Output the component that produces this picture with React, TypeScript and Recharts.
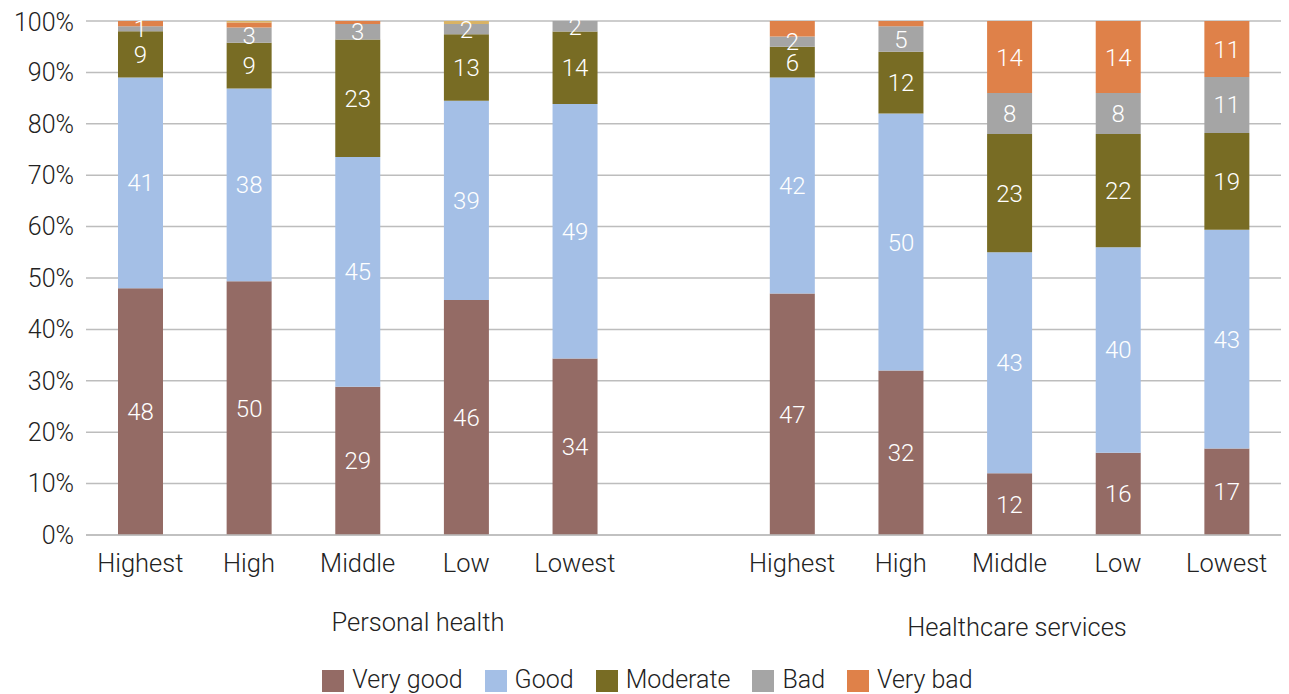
import { BarChart, Bar, XAxis, YAxis, CartesianGrid, Legend, LabelList } from "recharts";

// two groups of income levels, with an empty slot between them
const levels = ["Highest", "High", "Middle", "Low", "Lowest", "", "Highest", "High", "Middle", "Low", "Lowest"];

const veryGood = [48, 50, 29, 46, 34, null, 47, 32, 12, 16, 17];
const good = [41, 38, 45, 39, 49, null, 42, 50, 43, 40, 43];
const moderate = [9, 9, 23, 13, 14, null, 6, 12, 23, 22, 19];
const bad = [1, 3, 3, 2, 2, null, 2, 5, 8, 8, 11];
const veryBad = [1, 1, 0.6, 0, 0, null, 3, 1, 14, 14, 11];
const noAnswer = [0, 0.3, 0, 0.6, 0, null, 0, 0, 0, 0, 0];

const percentTicks = [0, 0.1, 0.2, 0.3, 0.4, 0.5, 0.6, 0.7, 0.8, 0.9, 1];
const legendOrder = ["Very good", "Good", "Moderate", "Bad", "Very bad"];

const rows = levels.map((level, i) => ({
  level,
  veryGood: veryGood[i],
  good: good[i],
  moderate: moderate[i],
  bad: bad[i],
  veryBad: veryBad[i],
  noAnswer: noAnswer[i],
}));

const FONT = "Roboto, 'Liberation Sans', sans-serif";
const labelStyle = { fill: "#fff", fontSize: 24, fontWeight: 300, fontFamily: FONT };

// small slivers stay unlabelled
const showIf = (min: number) => (v: any) => (v != null && v >= min ? v : "");

export default function App() {
  return (
    <div style={{ position: "relative", width: 1281, height: 686, fontFamily: FONT, fontWeight: 300, color: "#222" }}>
      <BarChart
        width={1281}
        height={686}
        data={rows}
        stackOffset="expand"
        barSize={45}
        margin={{ top: 13, right: 8, left: 0, bottom: 90 }}
      >
        <CartesianGrid vertical={false} stroke="#bdbdbd" strokeWidth={1.5} />
        <XAxis
          dataKey="level"
          axisLine={{ stroke: "#bdbdbd", strokeWidth: 1.5 }}
          tickLine={false}
          tickMargin={13}
          height={40}
          interval={0}
          tick={{ fontSize: 25.5, fill: "#222", fontWeight: 300, fontFamily: FONT }}
        />
        <YAxis
          width={78}
          domain={[0, 1]}
          ticks={percentTicks}
          tickFormatter={(v: number) => `${Math.round(v * 100)}%`}
          axisLine={false}
          tickLine={false}
          tickMargin={6}
          tick={{ fontSize: 25, fill: "#222", fontWeight: 300, fontFamily: FONT }}
        />
        <Legend
          iconType="square"
          iconSize={22}
          itemSorter={(item: any) => legendOrder.indexOf(item.value)}
          wrapperStyle={{ bottom: 0, paddingLeft: 14, fontSize: 25, fontWeight: 300 }}
          formatter={(value: string) => (
            <span style={{ color: "#222", marginLeft: 4, marginRight: 12 }}>{value}</span>
          )}
        />
        <Bar dataKey="veryGood" name="Very good" stackId="a" fill="#946b65" isAnimationActive={false}>
          <LabelList dataKey="veryGood" position="center" style={labelStyle} />
        </Bar>
        <Bar dataKey="good" name="Good" stackId="a" fill="#a4bfe6" isAnimationActive={false}>
          <LabelList dataKey="good" position="center" style={labelStyle} />
        </Bar>
        <Bar dataKey="moderate" name="Moderate" stackId="a" fill="#786c24" isAnimationActive={false}>
          <LabelList dataKey="moderate" position="center" style={labelStyle} />
        </Bar>
        <Bar dataKey="bad" name="Bad" stackId="a" fill="#a5a5a5" isAnimationActive={false}>
          <LabelList dataKey="bad" position="center" style={labelStyle} />
        </Bar>
        <Bar dataKey="veryBad" name="Very bad" stackId="a" fill="#df8149" isAnimationActive={false}>
          <LabelList dataKey="veryBad" position="center" style={labelStyle} formatter={showIf(5)} />
        </Bar>
        <Bar dataKey="noAnswer" stackId="a" fill="#d9b365" legendType="none" isAnimationActive={false} />
      </BarChart>
      <div style={{ position: "absolute", left: 418 - 8, top: 599, transform: "translateX(-50%)", fontSize: 25.5, whiteSpace: "nowrap" }}>
        Personal health
      </div>
      <div style={{ position: "absolute", left: 1017 - 8, top: 604, transform: "translateX(-50%)", fontSize: 25.5, whiteSpace: "nowrap" }}>
        Healthcare services
      </div>
    </div>
  );
}
